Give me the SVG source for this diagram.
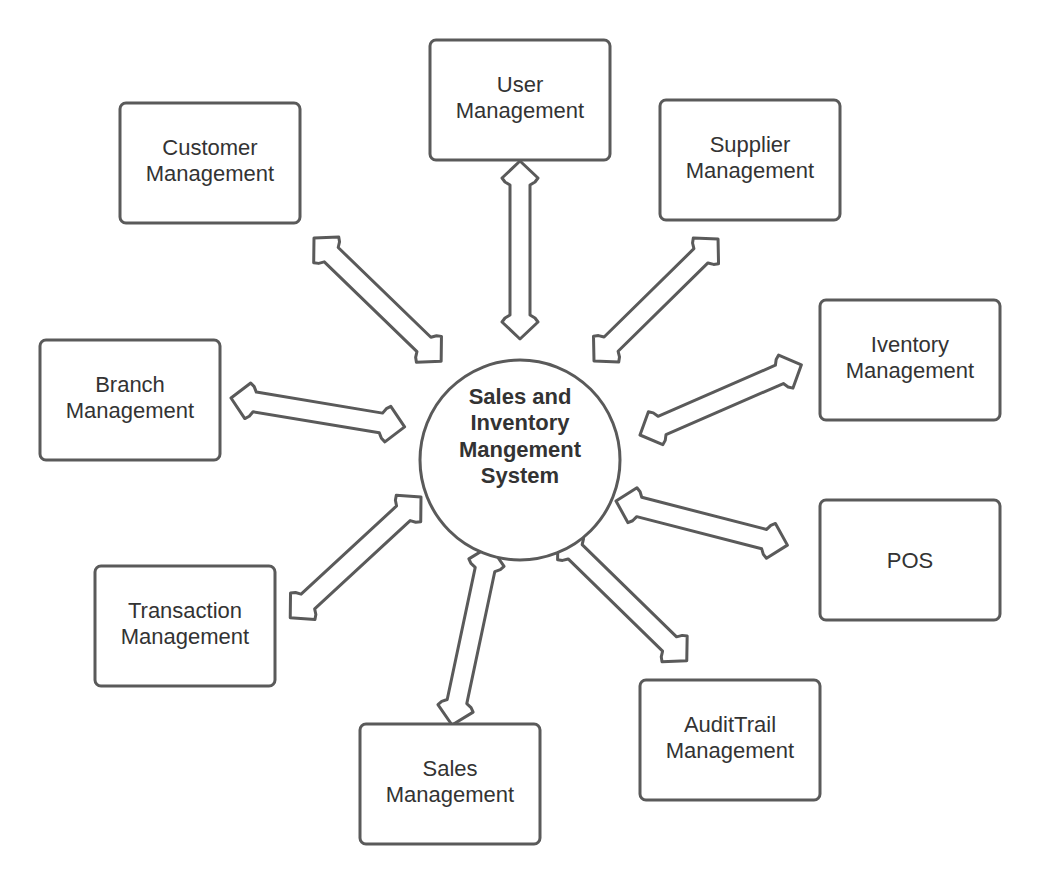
<svg xmlns="http://www.w3.org/2000/svg" width="1040" height="884" viewBox="0 0 1040 884">
<style>
.box{fill:#fff;stroke:#5a5a5a;stroke-width:3}
.arr{fill:#fff;stroke:#5a5a5a;stroke-width:3;stroke-linejoin:round}
.t{font-family:"Liberation Sans",Arial,sans-serif;font-size:22px;fill:#333;text-anchor:middle}
.c{font-family:"Liberation Sans",Arial,sans-serif;font-size:22px;font-weight:bold;fill:#333;text-anchor:middle}
</style>
<rect width="1040" height="884" fill="#fff"/>
<g id="connectors">
<path class="arr" transform="translate(520,161) rotate(90)" d="M0,0 L17,-18 L21,-15 L24,-10 L154,-10 L157,-15 L161,-18 L178,0 L161,18 L157,15 L154,10 L24,10 L21,15 L17,18 Z"/>
<path class="arr" transform="translate(314,238) rotate(44.08)" d="M0,0 L17,-18 L21,-15 L24,-10 L153,-10 L156,-15 L160,-18 L177,0 L160,18 L156,15 L153,10 L24,10 L21,15 L17,18 Z"/>
<path class="arr" transform="translate(594,361) rotate(-44.53)" d="M0,0 L17,-18 L21,-15 L24,-10 L150,-10 L153,-15 L157,-18 L174,0 L157,18 L153,15 L150,10 L24,10 L21,15 L17,18 Z"/>
<path class="arr" transform="translate(640,435) rotate(-23.5)" d="M0,0 L17,-18 L21,-15 L24,-10 L152,-10 L155,-15 L159,-18 L176,0 L159,18 L155,15 L152,10 L24,10 L21,15 L17,18 Z"/>
<path class="arr" transform="translate(616,501) rotate(14.43)" d="M0,0 L17,-18 L21,-15 L24,-10 L153,-10 L156,-15 L160,-18 L177,0 L160,18 L156,15 L153,10 L24,10 L21,15 L17,18 Z"/>
<path class="arr" transform="translate(558,535) rotate(44.33)" d="M0,0 L17,-18 L21,-15 L24,-10 L156,-10 L159,-15 L163,-18 L180,0 L163,18 L159,15 L156,10 L24,10 L21,15 L17,18 Z"/>
<path class="arr" transform="translate(490,546) rotate(101.98)" d="M0,0 L17,-18 L21,-15 L24,-10 L159,-10 L162,-15 L166,-18 L183,0 L166,18 L162,15 L159,10 L24,10 L21,15 L17,18 Z"/>
<path class="arr" transform="translate(421,497) rotate(137.27)" d="M0,0 L17,-18 L21,-15 L24,-10 L154,-10 L157,-15 L161,-18 L178,0 L161,18 L157,15 L154,10 L24,10 L21,15 L17,18 Z"/>
<path class="arr" transform="translate(231,398) rotate(9.46)" d="M0,0 L17,-18 L21,-15 L24,-10 L152,-10 L155,-15 L159,-18 L176,0 L159,18 L155,15 L152,10 L24,10 L21,15 L17,18 Z"/>
</g>
<g id="center">
<circle cx="520" cy="460" r="100" fill="#fff" stroke="#5a5a5a" stroke-width="3"/>
<text class="c" x="520" y="404">Sales and</text>
<text class="c" x="520" y="430">Inventory</text>
<text class="c" x="520" y="457">Mangement</text>
<text class="c" x="520" y="483">System</text>
</g>
<g id="user"><rect class="box" x="430" y="40" width="180" height="120" rx="6"/><text class="t" x="520" y="92">User</text><text class="t" x="520" y="118">Management</text></g>
<g id="customer"><rect class="box" x="120" y="103" width="180" height="120" rx="6"/><text class="t" x="210" y="155">Customer</text><text class="t" x="210" y="181">Management</text></g>
<g id="supplier"><rect class="box" x="660" y="100" width="180" height="120" rx="6"/><text class="t" x="750" y="152">Supplier</text><text class="t" x="750" y="178">Management</text></g>
<g id="inventory"><rect class="box" x="820" y="300" width="180" height="120" rx="6"/><text class="t" x="910" y="352">Iventory</text><text class="t" x="910" y="378">Management</text></g>
<g id="branch"><rect class="box" x="40" y="340" width="180" height="120" rx="6"/><text class="t" x="130" y="392">Branch</text><text class="t" x="130" y="418">Management</text></g>
<g id="pos"><rect class="box" x="820" y="500" width="180" height="120" rx="6"/><text class="t" x="910" y="568">POS</text></g>
<g id="transaction"><rect class="box" x="95" y="566" width="180" height="120" rx="6"/><text class="t" x="185" y="618">Transaction</text><text class="t" x="185" y="644">Management</text></g>
<g id="audittrail"><rect class="box" x="640" y="680" width="180" height="120" rx="6"/><text class="t" x="730" y="732">AuditTrail</text><text class="t" x="730" y="758">Management</text></g>
<g id="sales"><rect class="box" x="360" y="724" width="180" height="120" rx="6"/><text class="t" x="450" y="776">Sales</text><text class="t" x="450" y="802">Management</text></g>
</svg>
